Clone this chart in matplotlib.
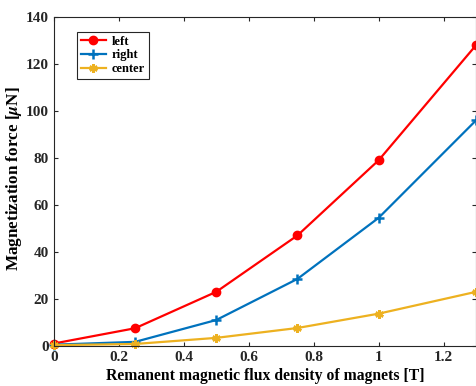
import matplotlib.pyplot as plt

plt.rcParams['font.family'] = 'Liberation Serif'
plt.rcParams['font.weight'] = 'bold'
plt.rcParams['mathtext.fontset'] = 'stix'

b_field = [0, 0.25, 0.5, 0.75, 1.0, 1.3]
force_left = [1.0, 7.5, 23.0, 47.0, 79.0, 128.0]
force_right = [0.5, 1.7, 11.0, 28.5, 54.5, 96.0]
force_center = [0.3, 0.8, 3.4, 7.6, 13.7, 23.0]

fig = plt.figure(figsize=(4.77, 3.86), dpi=100)
ax = fig.add_axes([0.113, 0.104, 0.885, 0.852])

ax.plot(b_field, force_left, color='#ff0000', lw=1.6, marker='o', ms=6, label='left', clip_on=False)
ax.plot(b_field, force_right, color='#0072BD', lw=1.6, marker='+', ms=7, mew=1.8, label='right', clip_on=False)
ax.plot(b_field, force_center, color='#EDB120', lw=1.6, marker=(6, 2, 0), ms=6, mew=1.8, label='center', clip_on=False)

ax.set_xlim(0, 1.3)
ax.set_ylim(0, 140)
ax.set_xticks([0, 0.2, 0.4, 0.6, 0.8, 1, 1.2])
ax.set_xticklabels(['0', '0.2', '0.4', '0.6', '0.8', '1', '1.2'])
ax.set_yticks(range(0, 141, 20))
ax.tick_params(direction='in', labelsize=11, length=3, top=True, right=True, colors='#262626')
for s in ax.spines.values():
    s.set_color('#262626')
    s.set_linewidth(0.8)

ax.set_xlabel('Remanent magnetic flux density of magnets [T]', fontsize=11.3, fontweight='bold')
ax.set_ylabel(r'Magnetization force [$\mu$N]', fontsize=12.3, fontweight='bold')
ax.xaxis.set_label_coords(0.5, -0.068)
ax.yaxis.set_label_coords(-0.07, 0.51)

leg = ax.legend(loc='upper left', bbox_to_anchor=(0.055, 0.955), fontsize=9, fancybox=False,
                edgecolor='#262626', framealpha=1, handlelength=2.0, handletextpad=0.5,
                borderpad=0.3, labelspacing=0.15, borderaxespad=0)
leg.get_frame().set_linewidth(0.8)

plt.savefig('out.png', dpi=100)
